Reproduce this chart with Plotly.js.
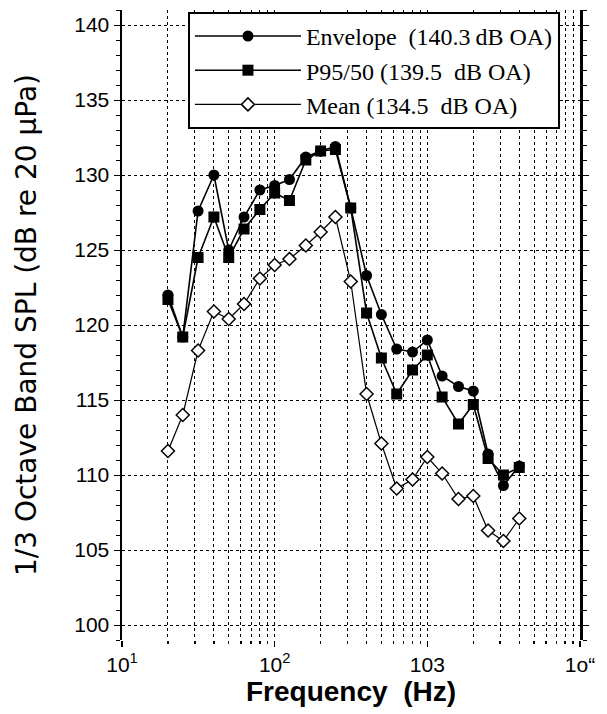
<!DOCTYPE html>
<html>
<head>
<meta charset="utf-8">
<script src="https://cdn.plot.ly/plotly-3.0.1.min.js"></script>
<style>
html,body{margin:0;padding:0;background:#fff;}
#chart{width:607px;height:714px;}
</style>
</head>
<body>
<div id="chart"></div>
<script>
// 1/3-octave band centre frequencies (Hz)
const freqs = [20, 25, 31.5, 40, 50, 63, 80, 100, 125, 160, 200, 250, 315, 400, 500, 630, 800, 1000, 1250, 1600, 2000, 2500, 3150, 4000];
// Envelope (140.3 dB OA)
const envelope = [122.0, 119.2, 127.6, 130.0, 125.0, 127.2, 129.0, 129.3, 129.7, 131.2, 131.6, 131.9, 127.8, 123.3, 120.7, 118.4, 118.2, 119.0, 116.6, 115.9, 115.6, 111.4, 109.3, 110.6];
// P95/50 (139.5 dB OA)
const p9550 = [121.7, 119.2, 124.5, 127.2, 124.5, 126.4, 127.7, 128.8, 128.3, 131.0, 131.6, 131.7, 127.8, 120.8, 117.8, 115.4, 117.0, 118.0, 115.2, 113.4, 114.7, 111.1, 110.0, 110.5];
// Mean (134.5 dB OA)
const mean = [111.6, 114.0, 118.3, 120.9, 120.4, 121.4, 123.1, 124.0, 124.4, 125.3, 126.2, 127.2, 122.9, 115.4, 112.1, 109.1, 109.7, 111.2, 110.1, 108.4, 108.6, 106.3, 105.6, 107.1];

const seriesNames = ['Envelope&nbsp;&nbsp;(140.3\u2009dB OA)', 'P95/50 (139.5&nbsp;&nbsp;dB OA)', 'Mean (134.5&nbsp;&nbsp;dB OA)'];
const xTickVals = [10, 100, 1000, 10000];
const xTickText = ['10<sup>1</sup>', '10<sup>2</sup>', '103', '1o\u201C'];
const yTickVals = [100, 105, 110, 115, 120, 125, 130, 135, 140];

const traces = [
  {x: freqs, y: envelope, name: seriesNames[0], mode: 'lines+markers', type: 'scatter',
   line: {color: '#000', width: 1.6},
   marker: {symbol: 'circle', size: 11, color: '#000'}},
  {x: freqs, y: p9550, name: seriesNames[1], mode: 'lines+markers', type: 'scatter',
   line: {color: '#000', width: 1.6},
   marker: {symbol: 'square', size: 11, color: '#000'}},
  {x: freqs, y: mean, name: seriesNames[2], mode: 'lines+markers', type: 'scatter',
   line: {color: '#000', width: 1.2},
   marker: {symbol: 'diamond', size: 10, color: '#fff', line: {color: '#000', width: 1.5}}}
];

const layout = {
  width: 607, height: 714,
  margin: {l: 122, r: 27, t: 10, b: 74},
  paper_bgcolor: '#fff', plot_bgcolor: '#fff',
  font: {family: 'Liberation Sans, Arial, sans-serif', color: '#000'},
  showlegend: true,
  legend: {
    x: 0.144, y: 0.997, xanchor: 'left', yanchor: 'top',
    bgcolor: '#fff', bordercolor: '#000', borderwidth: 2,
    font: {family: 'Liberation Serif, Times New Roman, serif', size: 24, color: '#000'},
    itemwidth: 106, tracegroupgap: 0
  },
  xaxis: {
    type: 'log', range: [1, 4],
    tickvals: xTickVals, ticktext: xTickText,
    tickfont: {size: 21},
    ticks: 'outside', ticklen: 6, tickwidth: 1.5, tickcolor: '#000',
    showline: false, zeroline: false,
    showgrid: false,
    minor: {dtick: 'D1', showgrid: true, gridcolor: '#000', griddash: 'dot', gridwidth: 1,
            ticks: 'outside', ticklen: 3, tickcolor: '#000'},
    title: {text: '<b>Frequency&nbsp;&nbsp;(Hz)</b>', font: {size: 28}, standoff: 6}
  },
  yaxis: {
    range: [99, 141],
    tickvals: yTickVals,
    tickfont: {size: 21},
    ticks: 'outside', ticklen: 6, tickwidth: 1, tickcolor: '#000',
    showline: true, linecolor: '#000', linewidth: 2.5, mirror: 'ticks',
    showgrid: true, gridcolor: '#000', griddash: 'dot', gridwidth: 1,
    zeroline: false,
    minor: {dtick: 1, ticks: 'outside', ticklen: 4, tickcolor: '#000', showgrid: false},
    title: {text: '1/3 Octave Band SPL (dB re 20 \u03BCPa)', font: {family: 'DejaVu Sans, sans-serif', size: 28}, standoff: 30}
  }
};

Plotly.newPlot('chart', traces, layout, {displayModeBar: false, staticPlot: true});
</script>
</body>
</html>
